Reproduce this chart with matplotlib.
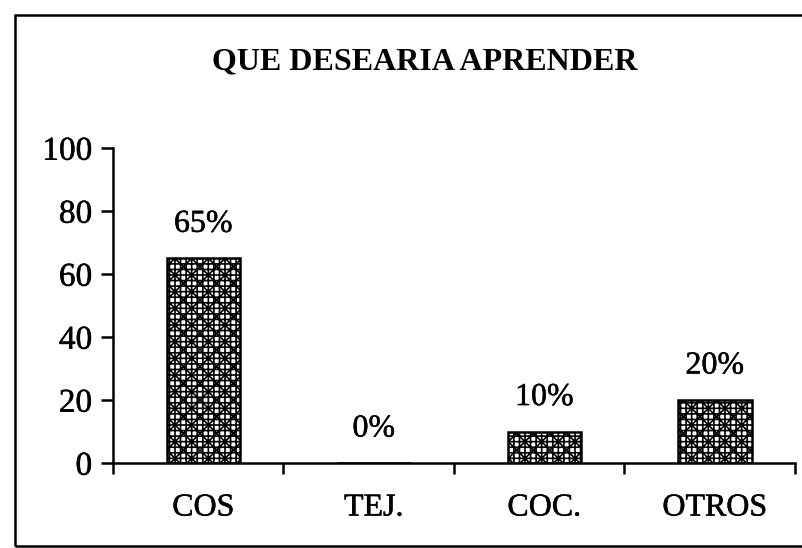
import numpy as np
import matplotlib.pyplot as plt
import matplotlib.patheffects as pe
from matplotlib.patches import Rectangle

categories = ['COS', 'TEJ.', 'COC.', 'OTROS']
values = [65, 0, 10, 20]
yticks = [0, 20, 40, 60, 80, 100]
title = 'QUE DESEARIA APRENDER'

plt.rcParams['font.family'] = ['Liberation Serif', 'DejaVu Serif']
plt.rcParams['hatch.linewidth'] = 1.2

# printed text looks a little heavier than the plain font
thick = [pe.withStroke(linewidth=0.35, foreground='black')]

W, H = 803, 548
fig = plt.figure(figsize=(W / 100, H / 100), dpi=100)
ax = fig.add_axes([113 / W, 1 - 463 / H, (795 - 113) / W, (463 - 148) / H])

x = np.arange(len(categories))
bars = ax.bar(x + 0.03, values, width=0.43, color='white', edgecolor='black',
              linewidth=1.8, hatch='+++xx')

for xi, v in zip(x, values):
    ax.annotate(f'{v}%', (xi + 0.03, v), xytext=(0, 14), textcoords='offset points',
                ha='center', va='bottom', fontsize=23, path_effects=thick)

ax.set_xlim(-0.5, len(categories) - 0.5)
ax.set_ylim(0, 100)
ax.set_yticks(yticks)
ax.tick_params(axis='y', direction='out', length=9, width=1.8,
               labelsize=24, pad=6)
for lbl in ax.get_yticklabels():
    lbl.set_path_effects(thick)

# boundary ticks between categories, labels centred under each bar
ax.set_xticks(np.arange(len(categories) + 1) - 0.5)
ax.set_xticklabels([])
ax.tick_params(axis='x', which='major', direction='out', length=8, width=1.8)
ax.set_xticks(x + 0.03, minor=True)
ax.set_xticklabels(categories, minor=True, fontsize=23)
ax.tick_params(axis='x', which='minor', length=0, pad=22)
for lbl in ax.get_xticklabels(minor=True):
    lbl.set_path_effects(thick)

for side in ['top', 'right']:
    ax.spines[side].set_visible(False)
for side in ['left', 'bottom']:
    ax.spines[side].set_linewidth(1.8)

fig.text(425 / W, 1 - 62 / H, title, ha='center', va='center',
         fontsize=23, fontweight='bold')

# outer frame
fig.patches.append(Rectangle((15 / W, 2 / H), 1.0, 1 - 17 / H,
                             transform=fig.transFigure, fill=False,
                             edgecolor='black', linewidth=1.8))

fig.savefig('out.png', dpi=100, facecolor='white')
